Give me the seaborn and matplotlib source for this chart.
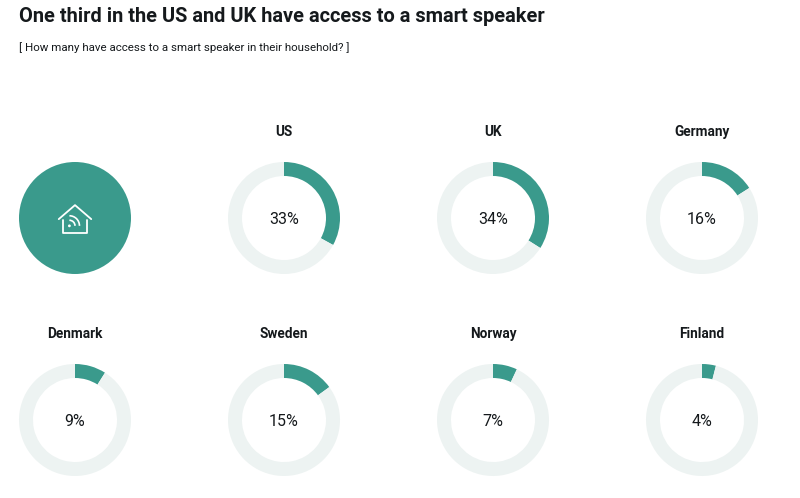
import matplotlib
matplotlib.use("Agg")
import matplotlib.pyplot as plt
import seaborn as sns

countries = ['US', 'UK', 'Germany', 'Denmark', 'Sweden', 'Norway', 'Finland']
shares = [33, 34, 16, 9, 15, 7, 4]
title = 'One third in the US and UK have access to a smart speaker'
subtitle = '[ How many have access to a smart speaker in their household? ]'

TEAL = '#3a9a8c'
PALE = '#edf3f2'
INK = '#15191c'
W, H = 800, 498

sns.set_theme(style='white')
plt.rcParams['font.family'] = ['Roboto', 'DejaVu Sans']

fig = plt.figure(figsize=(W / 100, H / 100), dpi=100, facecolor='white')


def ring_axes(cx, cy, r=56):
    # axes box in pixels, measured from top left
    ax = fig.add_axes([(cx - r) / W, 1 - (cy + r) / H, 2 * r / W, 2 * r / H])
    ax.set_xlim(-1, 1)
    ax.set_ylim(-1, 1)
    ax.set_aspect('equal')
    ax.axis('off')
    return ax


def draw_ring(ax, value, name):
    ax.pie([value, 100 - value], colors=[TEAL, PALE], startangle=90, counterclock=False,
           radius=1, wedgeprops=dict(width=0.25, linewidth=0))
    ax.set_xlim(-1, 1)
    ax.set_ylim(-1, 1)
    ax.text(0, -0.03, f'{value}%', ha='center', va='center', fontsize=11.5, color=INK)
    ax.text(0, 1.54, name, ha='center', va='center', fontsize=9.8,
            fontweight='bold', color=INK)


def draw_house(ax):
    # little smart home icon on the big disc
    ax.add_patch(plt.Circle((0, 0), 1, color=TEAL, lw=0))
    kw = dict(color='white', lw=1.3, solid_capstyle='round', solid_joinstyle='round')
    ax.plot([-0.29, 0, 0.29], [-0.02, 0.23, -0.02], **kw)
    ax.plot([-0.22, -0.22, 0.22, 0.22], [-0.03, -0.27, -0.27, -0.03], **kw)
    ax.add_patch(plt.Circle((-0.1, -0.14), 0.025, color='white', lw=0))
    for rad in (0.1, 0.18):
        ax.add_patch(matplotlib.patches.Arc((-0.1, -0.14), 2 * rad, 2 * rad, theta1=0, theta2=90,
                                            color='white', lw=1.2))


draw_house(ring_axes(75, 218))

centers = [(284, 218), (493, 218), (702, 218), (75, 420), (284, 420), (493, 420), (702, 420)]
for (cx, cy), name, value in zip(centers, countries, shares):
    draw_ring(ring_axes(cx, cy), value, name)

fig.text(19 / W, 1 - 16 / H, title, fontsize=14.4, fontweight='bold', color=INK, va='center', ha='left')
fig.text(19 / W, 1 - 48 / H, subtitle, fontsize=8.25, color=INK, va='center', ha='left')

fig.savefig('out.png', dpi=100)
